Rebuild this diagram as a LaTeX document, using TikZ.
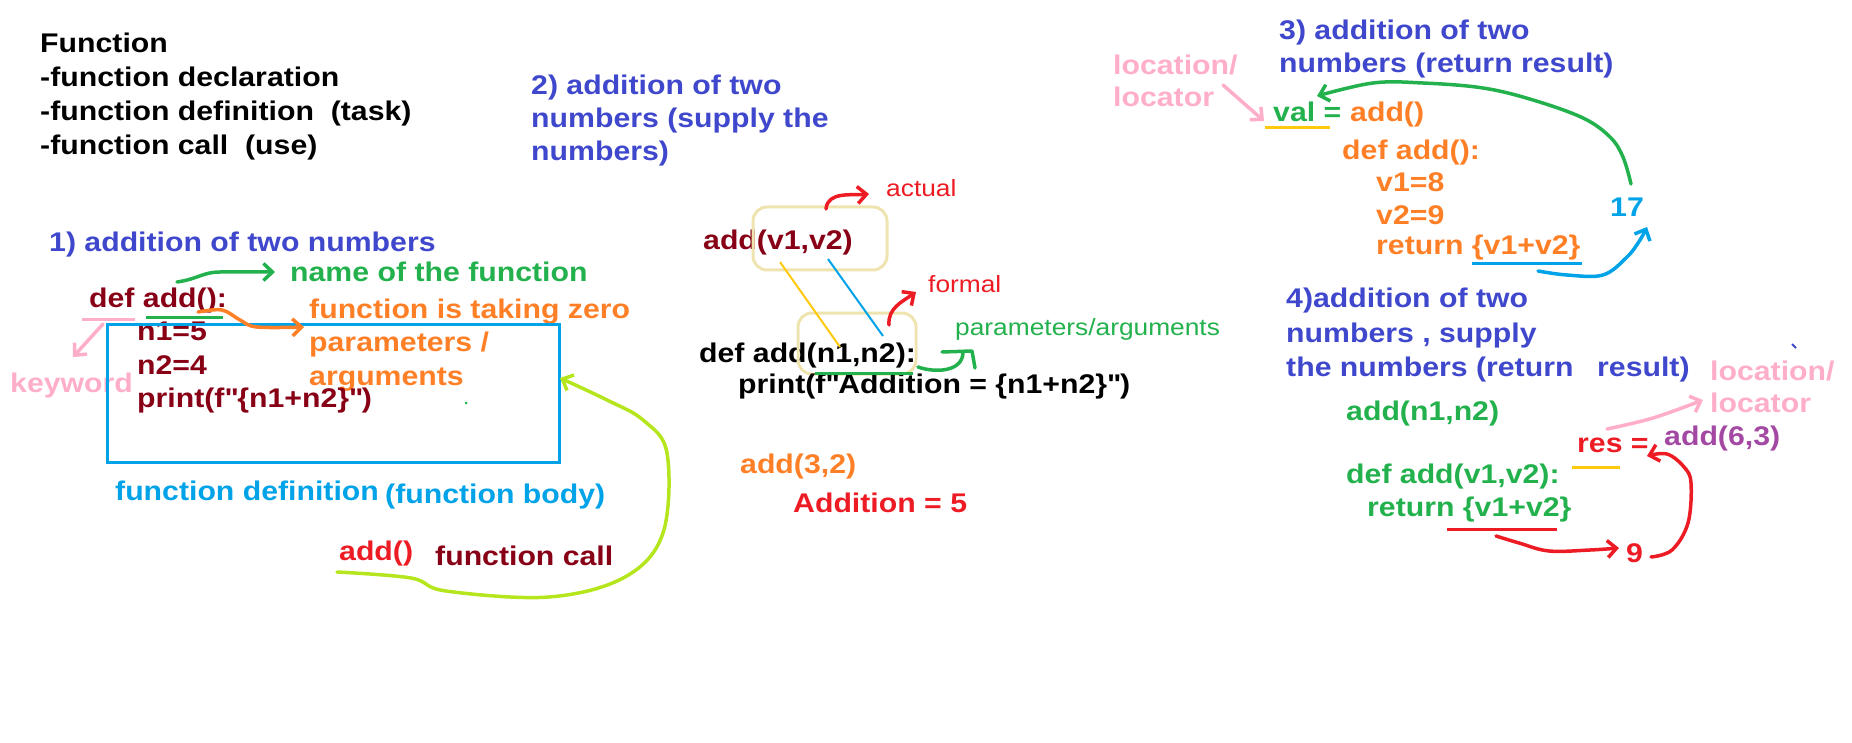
\documentclass[tikz,border=0pt]{standalone}
\usepackage{fontspec}
\setmainfont{Liberation Sans}[FakeStretch=1.12]
\usetikzlibrary{arrows.meta}
\definecolor{pindigo}{HTML}{3F48CC}
\definecolor{pgreen}{HTML}{22B14C}
\definecolor{pmaroon}{HTML}{880015}
\definecolor{porange}{HTML}{FF7F27}
\definecolor{ppink}{HTML}{FFAEC9}
\definecolor{pcyan}{HTML}{00A2E8}
\definecolor{pred}{HTML}{ED1C24}
\definecolor{plime}{HTML}{B5E61D}
\definecolor{ptan}{HTML}{EFE4B0}
\definecolor{pgold}{HTML}{FFC90E}
\definecolor{pplum}{HTML}{A349A4}
\newcommand{\dq}{\textquotedbl}
\tikzset{
  txt/.style={anchor=base west, inner sep=0pt, font=\bfseries\fontsize{27}{32}\selectfont},
  small/.style={anchor=base west, inner sep=0pt, font=\fontsize{23.5}{28}\selectfont},
  hand/.style={line width=3.5pt, line cap=round, line join=round},
  uline/.style={line width=3pt},
  tip/.style={-{Straight Barb[length=9pt,width=17pt]}},
  tanbox/.style={draw=ptan, line width=3pt, rounded corners=14pt, inner sep=0pt}
}
\begin{document}
\begin{tikzpicture}[x=1pt, y=-1pt]
    \useasboundingbox (0,0) rectangle (1852,743);
    % overview
    \node[txt] (fn) at (40,53) {Function};
    \node[txt] (decl) at (40,87) {-function declaration};
    \node[txt] (defn) at (40,121) {-function definition\ \ (task)};
    \node[txt] (use) at (40,155) {-function call\ \ (use)};

    % 1) no parameters
    \node[txt, text=pindigo] (h1) at (49,252) {1) addition of two numbers};
    \node[txt, text=pgreen] (name) at (290,282) {name of the function};
    \node[txt, text=pmaroon] (def1) at (89,307) {def add():};
    \node[txt, text=porange] (zero1) at (309,318) {function is taking zero};
    \node[txt, text=porange] (zero2) at (309,351) {parameters /};
    \node[txt, text=porange] (zero3) at (309,385) {arguments};
    \node[txt, text=pmaroon] (n1) at (137,340) {n1=5};
    \node[txt, text=pmaroon] (n2) at (137,374) {n2=4};
    \node[txt, text=pmaroon] (pr1) at (137,407) {print(f\dq\{n1+n2\}\dq)};
    \node[txt, text=ppink] (kw) at (10,392) {keyword};
    \node[draw=pcyan, line width=3pt, inner sep=0pt, minimum width=452pt, minimum height=138pt] (body) at (333,393) {};
    \node[txt, text=pcyan] (bodyA) at (115,500) {function definition};
    \node[txt, text=pcyan] (bodyB) at (385,503) {(function body)};
    \node[txt, text=pred] (call1) at (339,560) {add()};
    \node[txt, text=pmaroon] (callT) at (435,565) {function call};
    \fill[pgreen] (466,403) circle (1.5pt);

    \coordinate (kwA) at (82,319);   \coordinate (kwB) at (135,319);
    \coordinate (kwS) at (103,324);  \coordinate (kwT) at (73,357);
    \coordinate (nmA) at (146,317);  \coordinate (nmB) at (223,317);
    \coordinate (nmS) at (177,282);  \coordinate (nmT) at (275,272);
    \coordinate (prS) at (198,312);  \coordinate (prT) at (304,327);
    \coordinate (clS) at (337,572);  \coordinate (clT) at (560,378);
    \draw[ppink, uline] (kwA) -- (kwB);
    \draw[ppink, hand, tip] (kwS) -- (kwT);
    \draw[pgreen, uline] (nmA) -- (nmB);
    \draw[pgreen, hand, tip] (nmS) .. controls (198,279) and (203,272) .. (220,272) -- (nmT);
    \draw[porange, hand, tip] plot[smooth, tension=0.6] coordinates {(prS) (222,310) (240,320) (257,327) (prT)};
    \draw[plime, hand, tip] plot[smooth, tension=0.6] coordinates {(clS) (411,578) (446,591) (549,597) (625,577) (663,533) (667,453) (643,420) (607,400) (clT)};

    % 2) supply the numbers
    \node[txt, text=pindigo] (h2a) at (531,95) {2) addition of two};
    \node[txt, text=pindigo] (h2b) at (531,128) {numbers (supply the};
    \node[txt, text=pindigo] (h2c) at (531,161) {numbers)};
    \node[txt, text=pmaroon] (call2) at (703,250) {add(v1,v2)};
    \node[tanbox, minimum width=134pt, minimum height=63pt] (act) at (820,238.5) {};
    \node[small, text=pred] (actual) at (886,197) {actual};
    \node[txt] (def2) at (699,362) {def add(n1,n2):};
    \node[tanbox, minimum width=118pt, minimum height=61pt] (frm) at (857,343.5) {};
    \node[small, text=pred] (formal) at (928,292) {formal};
    \node[small, text=pgreen] (params) at (955,335) {parameters/arguments};
    \node[txt] (pr2) at (738,393) {print(f\dq Addition = \{n1+n2\}\dq)};
    \node[txt, text=porange] (call3) at (740,473) {add(3,2)};
    \node[txt, text=pred] (out2) at (793,512) {Addition = 5};

    \coordinate (v1p) at (780,262);  \coordinate (n1p) at (840,347);
    \coordinate (v2p) at (828,259);  \coordinate (n2p) at (883,336);
    \coordinate (acS) at (826,209);  \coordinate (acT) at (869,194);
    \coordinate (fmS) at (889,325);  \coordinate (fmT) at (916,292);
    \coordinate (paA) at (815,373);  \coordinate (paB) at (913,373);
    \coordinate (paS) at (918,367);  \coordinate (paT) at (963,353);
    \draw[pgold, line width=2pt] (v1p) -- (n1p);
    \draw[pcyan, line width=2pt] (v2p) -- (n2p);
    \draw[pred, hand, tip] (acS) to[out=85, in=185] (acT);
    \draw[pred, hand, tip] (fmS) to[out=95, in=215] (fmT);
    \draw[pgreen, uline] (paA) -- (paB);
    \draw[pgreen, hand] (paS) .. controls (935,373) and (962,372) .. (paT);
    \draw[pgreen, hand] (942,352) -- (972,351) -- (975,368);

    % 3) return result
    \node[txt, text=pindigo] (h3a) at (1279,40) {3) addition of two};
    \node[txt, text=pindigo] (h3b) at (1279,73) {numbers (return result)};
    \node[txt, text=ppink] (loc3a) at (1113,75) {location/};
    \node[txt, text=ppink] (loc3b) at (1113,107) {locator};
    \node[txt, text=pgreen] (val) at (1273,122) {val =};
    \node[txt, text=porange] (call4) at (1350,122) {add()};
    \node[txt, text=porange] (def3) at (1342,160) {def add():};
    \node[txt, text=porange] (v1) at (1376,192) {v1=8};
    \node[txt, text=porange] (v2) at (1376,225) {v2=9};
    \node[txt, text=porange] (ret3) at (1376,255) {return \{v1+v2\}};
    \node[txt, text=pcyan] (r17) at (1610,217) {17};

    \coordinate (l3S) at (1223,85);   \coordinate (l3T) at (1264,121);
    \coordinate (vaA) at (1265,128);  \coordinate (vaB) at (1330,128);
    \coordinate (gvS) at (1631,184);  \coordinate (gvT) at (1317,96);
    \coordinate (rtA) at (1472,264);  \coordinate (rtB) at (1582,264);
    \coordinate (rtS) at (1538,271);  \coordinate (rtT) at (1647,227);
    \draw[ppink, hand, tip] (l3S) -- (l3T);
    \draw[pgold, uline] (vaA) -- (vaB);
    \draw[pgreen, hand, tip] plot[smooth, tension=0.6] coordinates {(gvS) (1623,157) (1610,137) (1583,118) (1533,100) (1483,88) (1423,83) (1373,83) (gvT)};
    \draw[pcyan, uline] (rtA) -- (rtB);
    \draw[pcyan, hand, tip] plot[smooth, tension=0.6] coordinates {(rtS) (1567,275) (1603,275) (1627,257) (1640,240) (rtT)};

    % 4) supply and return
    \node[txt, text=pindigo] (h4a) at (1286,308) {4)addition of two};
    \node[txt, text=pindigo] (h4b) at (1286,342) {numbers , supply};
    \node[txt, text=pindigo] (h4c) at (1286,376) {the numbers (return};
    \node[txt, text=pindigo] (h4d) at (1597,376) {result)};
    \node[txt, text=ppink] (loc4a) at (1710,380) {location/};
    \node[txt, text=ppink] (loc4b) at (1710,412) {locator};
    \node[txt, text=pgreen] (call5) at (1346,420) {add(n1,n2)};
    \node[txt, text=pred] (res) at (1577,452) {res =};
    \node[txt, text=pplum] (call6) at (1664,445) {add(6,3)};
    \node[txt, text=pgreen] (def4) at (1346,483) {def add(v1,v2):};
    \node[txt, text=pgreen] (ret4) at (1367,516) {return \{v1+v2\}};
    \node[txt, text=pred] (r9) at (1626,562) {9};
    \draw[pindigo, line width=2pt] (1792,344) -- (1796,348);

    \coordinate (l4S) at (1607,429);  \coordinate (l4T) at (1703,400);
    \coordinate (rsA) at (1572,467);  \coordinate (rsB) at (1620,467);
    \coordinate (r4A) at (1447,529);  \coordinate (r4B) at (1557,529);
    \coordinate (r4S) at (1496,536);  \coordinate (r4T) at (1619,548);
    \coordinate (n9S) at (1651,557);  \coordinate (n9T) at (1647,456);
    \draw[ppink, hand, tip] plot[smooth, tension=0.6] coordinates {(l4S) (1653,418) (l4T)};
    \draw[pgold, uline] (rsA) -- (rsB);
    \draw[pred, uline] (r4A) -- (r4B);
    \draw[pred, hand, tip] plot[smooth, tension=0.6] coordinates {(r4S) (1519,543) (1549,551) (1590,550) (r4T)};
    \draw[pred, hand, tip] plot[smooth, tension=0.6] coordinates {(n9S) (1672,550) (1688,523) (1691,483) (1684,467) (1667,454) (n9T)};
\end{tikzpicture}
\end{document}
